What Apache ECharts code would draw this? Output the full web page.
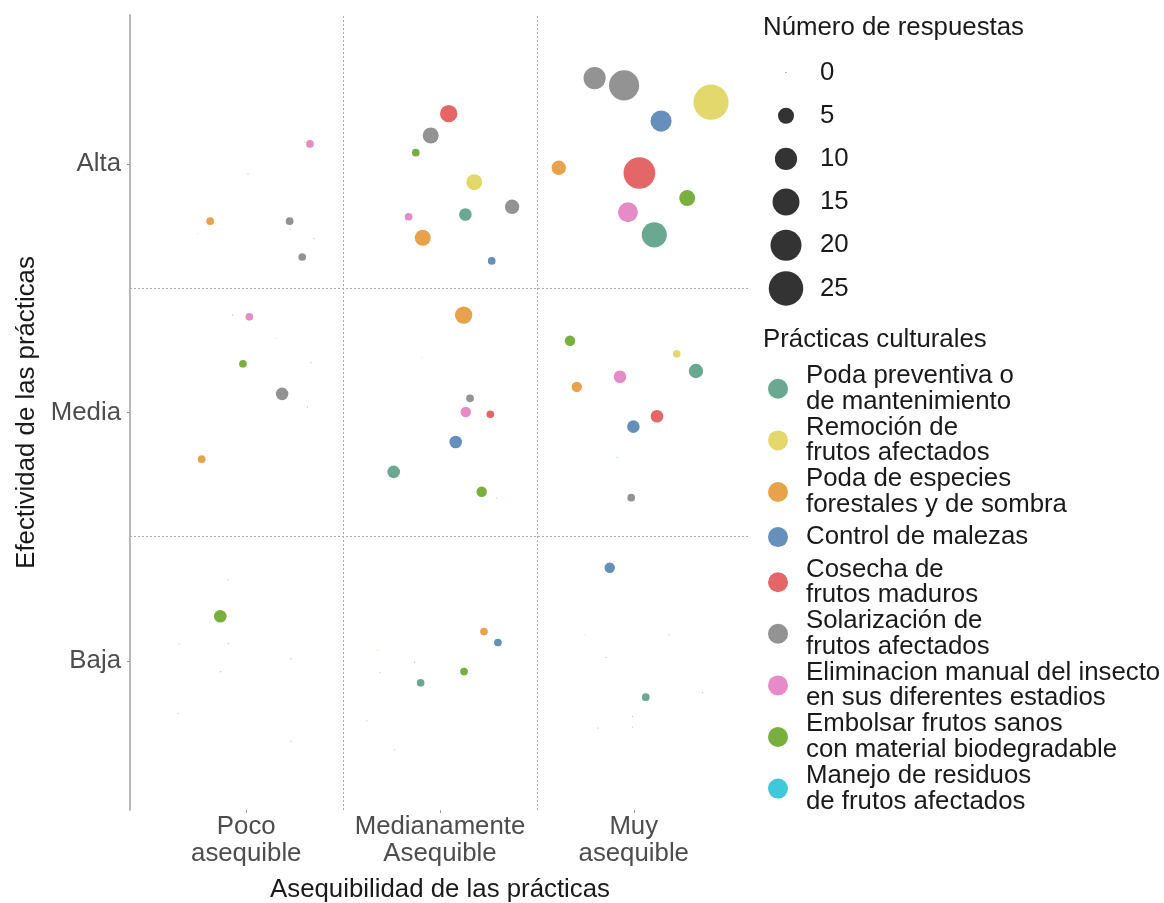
<!DOCTYPE html>
<html>
<head>
<meta charset="utf-8">
<script src="https://cdn.jsdelivr.net/npm/echarts@6/dist/echarts.min.js"></script>
<style>
  html, body { margin: 0; padding: 0; background: #fff; }
  #main { width: 1164px; height: 903px; }
</style>
</head>
<body>
<div id="main"></div>
<script>
// categorias de los ejes
var xLabels = ['Poco\nasequible', 'Medianamente\nAsequible', 'Muy\nasequible'];
var yLabels = ['Baja', 'Media', 'Alta'];
var sizeBreaks = [0, 5, 10, 15, 20, 25];

var practicas = [
  'Poda preventiva o\nde mantenimiento',
  'Remoción de\nfrutos afectados',
  'Poda de especies\nforestales y de sombra',
  'Control de malezas',
  'Cosecha de\nfrutos maduros',
  'Solarización de\nfrutos afectados',
  'Eliminacion manual del insecto\nen sus diferentes estadios',
  'Embolsar frutos sanos\ncon material biodegradable',
  'Manejo de residuos\nde frutos afectados'
];
var colores = ['#6BA892', '#E3D86B', '#E8A24B', '#6590BC', '#E46666', '#939393', '#E68BC8', '#78AF3F', '#3FC8DA'];

// [asequibilidad (con jitter), efectividad (con jitter), numero de respuestas]
var podaPreventiva = [
  [1.009, 2.960, 0], [0.930, 2.392, 0], [0.906, 1.327, 0],
  [2.131, 2.797, 3], [1.761, 1.761, 3], [1.900, 0.912, 1],
  [3.106, 2.715, 13], [3.321, 2.167, 4], [3.062, 0.854, 1]
];
var remocion = [
  [0.751, 2.719, 0], [1.154, 2.300, 0], [0.813, 1.166, 0],
  [2.177, 2.927, 5], [1.907, 2.222, 0], [1.678, 1.044, 0],
  [3.399, 3.249, 26], [3.222, 2.236, 1], [2.748, 1.105, 0]
];
var podaEspecies = [
  [0.814, 2.770, 1], [0.770, 1.812, 1], [0.654, 1.068, 0],
  [1.911, 2.703, 5], [2.122, 2.392, 6], [2.227, 1.118, 1],
  [2.613, 2.985, 4], [2.706, 2.103, 2], [3.183, 1.105, 0]
];
var controlMalezas = [
  [1.350, 2.699, 0], [1.334, 2.200, 0], [0.907, 1.069, 0],
  [2.267, 2.610, 1], [2.081, 1.881, 3], [2.299, 1.074, 1],
  [3.141, 3.173, 9], [2.998, 1.943, 3], [2.876, 1.375, 2]
];
var cosecha = [
  [1.226, 2.739, 0], [1.315, 2.022, 0], [1.231, 1.009, 0],
  [2.045, 3.203, 6], [2.260, 1.993, 1], [1.869, 0.996, 0],
  [3.029, 2.964, 21], [3.120, 1.985, 3], [2.857, 1.015, 0]
];
var solarizacion = [
  [1.224, 2.770, 1], [1.289, 2.626, 1], [1.185, 2.075, 3], [0.868, 0.956, 0],
  [1.952, 3.115, 5], [2.372, 2.828, 4], [2.155, 2.057, 1], [1.690, 0.952, 0],
  [2.798, 3.346, 10], [2.950, 3.317, 19], [2.987, 1.657, 1], [3.356, 0.874, 0]
];
var eliminacion = [
  [1.329, 3.081, 1], [1.016, 2.385, 1], [0.649, 0.788, 0],
  [1.838, 2.788, 1], [2.133, 2.002, 2], [1.623, 0.759, 0],
  [2.970, 2.806, 8], [2.929, 2.144, 3], [2.993, 0.777, 0]
];
var embolsar = [
  [1.303, 3.089, 0], [0.983, 2.196, 1], [0.866, 1.180, 3],
  [1.875, 3.046, 1], [2.215, 1.681, 2], [2.124, 0.957, 1],
  [3.276, 2.863, 5], [2.671, 2.289, 2], [2.815, 0.730, 0]
];
var manejo = [
  [1.231, 0.677, 0], [2.294, 1.656, 0], [1.766, 0.643, 0], [2.914, 1.820, 0], [2.993, 0.734, 0]
];

var datos = [podaPreventiva, remocion, podaEspecies, controlMalezas, cosecha,
             solarizacion, eliminacion, embolsar, manejo];

var fuente = "'Liberation Sans', Arial, sans-serif";
var tam = 25.8;

// area proporcional al numero de respuestas
function tamano(n) {
  return 1 + 6.7 * Math.sqrt(n);
}

var chart = echarts.init(document.getElementById('main'));

var series = practicas.map(function (nombre, i) {
  return {
    name: nombre,
    type: 'scatter',
    xAxisIndex: 0,
    yAxisIndex: 0,
    data: datos[i],
    symbolSize: function (v) { return tamano(v[2]); },
    itemStyle: { color: colores[i], opacity: 1 },
    silent: true
  };
});

// lineas punteadas entre categorias
series[0].markLine = {
  silent: true,
  symbol: 'none',
  label: { show: false },
  lineStyle: { type: [2, 2], color: '#aaaaaa', width: 1 },
  data: [{ xAxis: 1.5 }, { xAxis: 2.5 }, { yAxis: 1.5 }, { yAxis: 2.5 }]
};

// leyenda de tamanos
series.push({
  type: 'scatter',
  xAxisIndex: 1,
  yAxisIndex: 1,
  silent: true,
  data: sizeBreaks.map(function (b) { return [0, String(b), b]; }),
  symbolSize: function (v) { return tamano(v[2]); },
  itemStyle: { color: '#333333', opacity: 1 }
});

// la entrada de una sola linea ocupa mas alto
var legendData = practicas.map(function (nombre) {
  if (nombre.indexOf('\n') < 0) {
    return { name: nombre, textStyle: { padding: [6.5, 0, 6.5, 13] } };
  }
  return nombre;
});

var option = {
  backgroundColor: '#ffffff',
  animation: false,
  textStyle: { fontFamily: fuente },
  title: [
    { text: 'Número de respuestas', left: 763, top: 15, padding: 0,
      textStyle: { fontSize: tam, fontWeight: 'normal', color: '#1a1a1a', fontFamily: fuente } },
    { text: 'Prácticas culturales', left: 763, top: 327, padding: 0,
      textStyle: { fontSize: tam, fontWeight: 'normal', color: '#1a1a1a', fontFamily: fuente } }
  ],
  legend: {
    data: legendData,
    orient: 'vertical',
    left: 768,
    top: 363,
    padding: 0,
    itemGap: 0,
    itemWidth: 20,
    itemHeight: 20,
    icon: 'circle',
    selectedMode: false,
    textStyle: { fontSize: tam, lineHeight: 25.6, color: '#1a1a1a', fontFamily: fuente, padding: [0, 0, 0, 13] }
  },
  grid: [
    { left: 130, top: 15, width: 620, height: 795, outerBoundsMode: 'none' },
    { left: 776, top: 51, width: 20, height: 259, outerBoundsMode: 'none' }
  ],
  xAxis: [
    {
      type: 'value', gridIndex: 0, min: 0.4, max: 3.6,
      name: 'Asequibilidad de las prácticas',
      nameLocation: 'middle', nameGap: 67,
      nameTextStyle: { fontSize: tam, color: '#1a1a1a', fontFamily: fuente },
      axisLine: { show: false },
      axisTick: { show: true, length: 3, customValues: [1, 2, 3], lineStyle: { color: '#999999' } },
      axisLabel: {
        customValues: [1, 2, 3], margin: 3, fontSize: tam, lineHeight: 27, color: '#4d4d4d', fontFamily: fuente,
        formatter: function (v) { return xLabels[Math.round(v) - 1]; }
      },
      splitLine: { show: false }
    },
    { type: 'value', gridIndex: 1, min: -1, max: 1, show: false }
  ],
  yAxis: [
    {
      type: 'value', gridIndex: 0, min: 0.4, max: 3.6,
      name: 'Efectividad de las prácticas',
      nameLocation: 'middle', nameGap: 90,
      nameTextStyle: { fontSize: tam, color: '#1a1a1a', fontFamily: fuente },
      axisLine: { show: true, lineStyle: { color: '#b8b8b8', width: 2 } },
      axisTick: { show: true, length: 3, customValues: [1, 2, 3], lineStyle: { color: '#999999' } },
      axisLabel: {
        customValues: [1, 2, 3], margin: 9, fontSize: tam, color: '#4d4d4d', fontFamily: fuente,
        padding: [5, 0, 0, 0],
        formatter: function (v) { return yLabels[Math.round(v) - 1]; }
      },
      splitLine: { show: false }
    },
    {
      type: 'category', gridIndex: 1, inverse: true, position: 'left',
      data: sizeBreaks.map(String),
      axisLine: { show: false },
      axisTick: { show: false },
      splitLine: { show: false },
      axisLabel: { inside: false, margin: -44, align: 'left', fontSize: tam, color: '#1a1a1a', fontFamily: fuente }
    }
  ],
  series: series
};

chart.setOption(option);
</script>
</body>
</html>
